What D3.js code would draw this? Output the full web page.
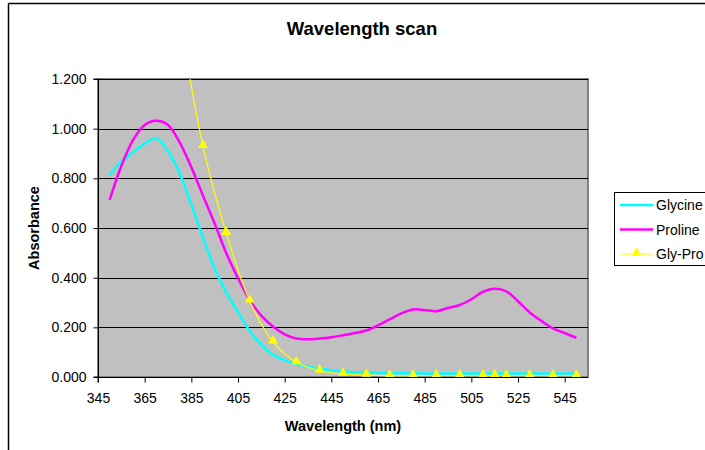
<!DOCTYPE html>
<html><head><meta charset="utf-8">
<script src="https://cdn.jsdelivr.net/npm/d3@7"></script>
<style>body{margin:0;background:#fff}svg{display:block;font-family:"Liberation Sans",Arial,sans-serif}</style>
</head><body><svg id="c" width="705" height="450"></svg>
<script>
const glycineNm  = [350,355,360,365,370,375,380,385,390,395,400,405,410,415,420,425,430,435,440,445,450,455,460,470,480,490,500,510,520,530,540,550];
const glycineAbs = [0.815,0.868,0.905,0.940,0.960,0.910,0.820,0.695,0.560,0.437,0.340,0.262,0.185,0.130,0.089,0.068,0.052,0.041,0.033,0.027,0.022,0.019,0.017,0.015,0.015,0.014,0.014,0.014,0.014,0.014,0.014,0.014];
const prolineNm  = [350,355,360,365,370,375,380,385,390,395,400,405,410,415,420,425,430,435,440,445,450,455,460,465,470,475,480,485,490,495,500,505,510,515,520,525,530,535,540,545,550];
const prolineAbs = [0.713,0.850,0.954,1.015,1.032,1.015,0.945,0.845,0.730,0.618,0.498,0.398,0.310,0.247,0.203,0.172,0.155,0.152,0.155,0.160,0.168,0.177,0.187,0.208,0.232,0.256,0.272,0.270,0.265,0.278,0.290,0.313,0.343,0.355,0.345,0.305,0.260,0.226,0.196,0.177,0.158];
const glyProNm   = [380,390,400,410,420,430,440,450,460,470,480,490,500,510,515,520,530,540,550];
const glyProAbs  = [1.45,0.930,0.579,0.307,0.142,0.059,0.025,0.012,0.008,0.005,0.005,0.005,0.005,0.005,0.006,0.005,0.005,0.005,0.005];
const xTicks = [345,365,385,405,425,445,465,485,505,525,545];
const yTicks = [0,0.2,0.4,0.6,0.8,1.0,1.2];
const seriesNames = ["Glycine","Proline","Gly-Pro"];
const seriesColors = ["#00FFFF","#FF00FF","#FFFF00"];

const svg = d3.select("#c");
const L=98, T=79, W=490, H=298;
const x = d3.scaleLinear().domain([345,555]).range([L,L+W]);
const y = d3.scaleLinear().domain([0,1.2]).range([T+H,T]);

// chart frame
svg.append("line").attr("x1",8.5).attr("x2",705).attr("y1",3.5).attr("y2",3.5).attr("stroke","#000").attr("stroke-width",1.5);
svg.append("line").attr("x1",8.5).attr("x2",8.5).attr("y1",3.5).attr("y2",450).attr("stroke","#000").attr("stroke-width",1.5);

svg.append("rect").attr("x",L).attr("y",T).attr("width",W).attr("height",H).attr("fill","#C0C0C0").attr("stroke","#808080").attr("stroke-width",2);

// gridlines
svg.append("g").selectAll("line").data(yTicks.slice(1)).join("line")
  .attr("x1",L).attr("x2",L+W).attr("y1",d=>Math.round(y(d))+0.5).attr("y2",d=>Math.round(y(d))+0.5)
  .attr("stroke","#000").attr("stroke-width",1);

// axes
const ax = svg.append("g").attr("transform",`translate(0,${T+H+0.5})`)
  .call(d3.axisBottom(x).tickValues(xTicks).tickSize(5).tickPadding(11).tickFormat(d3.format("d")));
const ay = svg.append("g").attr("transform",`translate(${L+0.5},0)`)
  .call(d3.axisLeft(y).tickValues(yTicks).tickSize(5).tickPadding(7).tickFormat(d3.format(".3f")));
[ax,ay].forEach(g=>{g.select(".domain").attr("stroke","#000");g.selectAll(".tick line").attr("stroke","#000");
  g.selectAll("text").attr("font-size",14).attr("fill","#000").attr("font-family","Liberation Sans, Arial, sans-serif");});
ay.select(".domain").attr("d",`M-5,${T+H}H0V${T}H-5`);
ax.select(".domain").attr("d",`M${L},5V0H${L+W}`);

// clip
svg.append("clipPath").attr("id","clip").append("rect").attr("x",L).attr("y",T).attr("width",W).attr("height",H);
const plot = svg.append("g").attr("clip-path","url(#clip)");
const line = d3.line().x(d=>x(d[0])).y(d=>y(d[1])).curve(d3.curveCatmullRom.alpha(0.5));

plot.append("path").datum(d3.zip(glycineNm,glycineAbs)).attr("d",line).attr("fill","none").attr("stroke",seriesColors[0]).attr("stroke-width",2.5).attr("stroke-linejoin","round");
plot.append("path").datum(d3.zip(prolineNm,prolineAbs)).attr("d",line).attr("fill","none").attr("stroke",seriesColors[1]).attr("stroke-width",2.5).attr("stroke-linejoin","round");
const gp = d3.zip(glyProNm,glyProAbs);
plot.append("path").datum(gp).attr("d",line).attr("fill","none").attr("stroke",seriesColors[2]).attr("stroke-width",1.2);
const tri = d3.symbol().type(d3.symbolTriangle).size(42);
plot.selectAll(".m").data(gp).join("path").attr("class","m").attr("d",tri)
  .attr("transform",d=>`translate(${x(d[0])},${y(d[1])-1})`).attr("fill",seriesColors[2]);

// titles
svg.append("text").attr("x",362).attr("y",35).attr("text-anchor","middle").attr("font-size",18.5).attr("font-weight","bold").text("Wavelength scan");
svg.append("text").attr("x",343).attr("y",431).attr("text-anchor","middle").attr("font-size",14.5).attr("font-weight","bold").text("Wavelength (nm)");
svg.append("text").attr("transform","translate(39,228) rotate(-90)").attr("text-anchor","middle").attr("font-size",14.5).attr("font-weight","bold").text("Absorbance");

// legend
const lg = svg.append("g");
lg.append("rect").attr("x",614.5).attr("y",192.5).attr("width",120).attr("height",73).attr("fill","#fff").attr("stroke","#000");
seriesNames.forEach((n,i)=>{
  const yy = 205 + i*24.5;
  lg.append("line").attr("x1",620).attr("x2",653).attr("y1",yy).attr("y2",yy).attr("stroke",seriesColors[i]).attr("stroke-width",i<2?2.5:1.2);
  if(i===2) lg.append("path").attr("d",tri).attr("transform",`translate(636.5,${yy-1})`).attr("fill",seriesColors[i]);
  lg.append("text").attr("x",656).attr("y",yy+5).attr("font-size",14).text(n);
});
</script></body></html>
